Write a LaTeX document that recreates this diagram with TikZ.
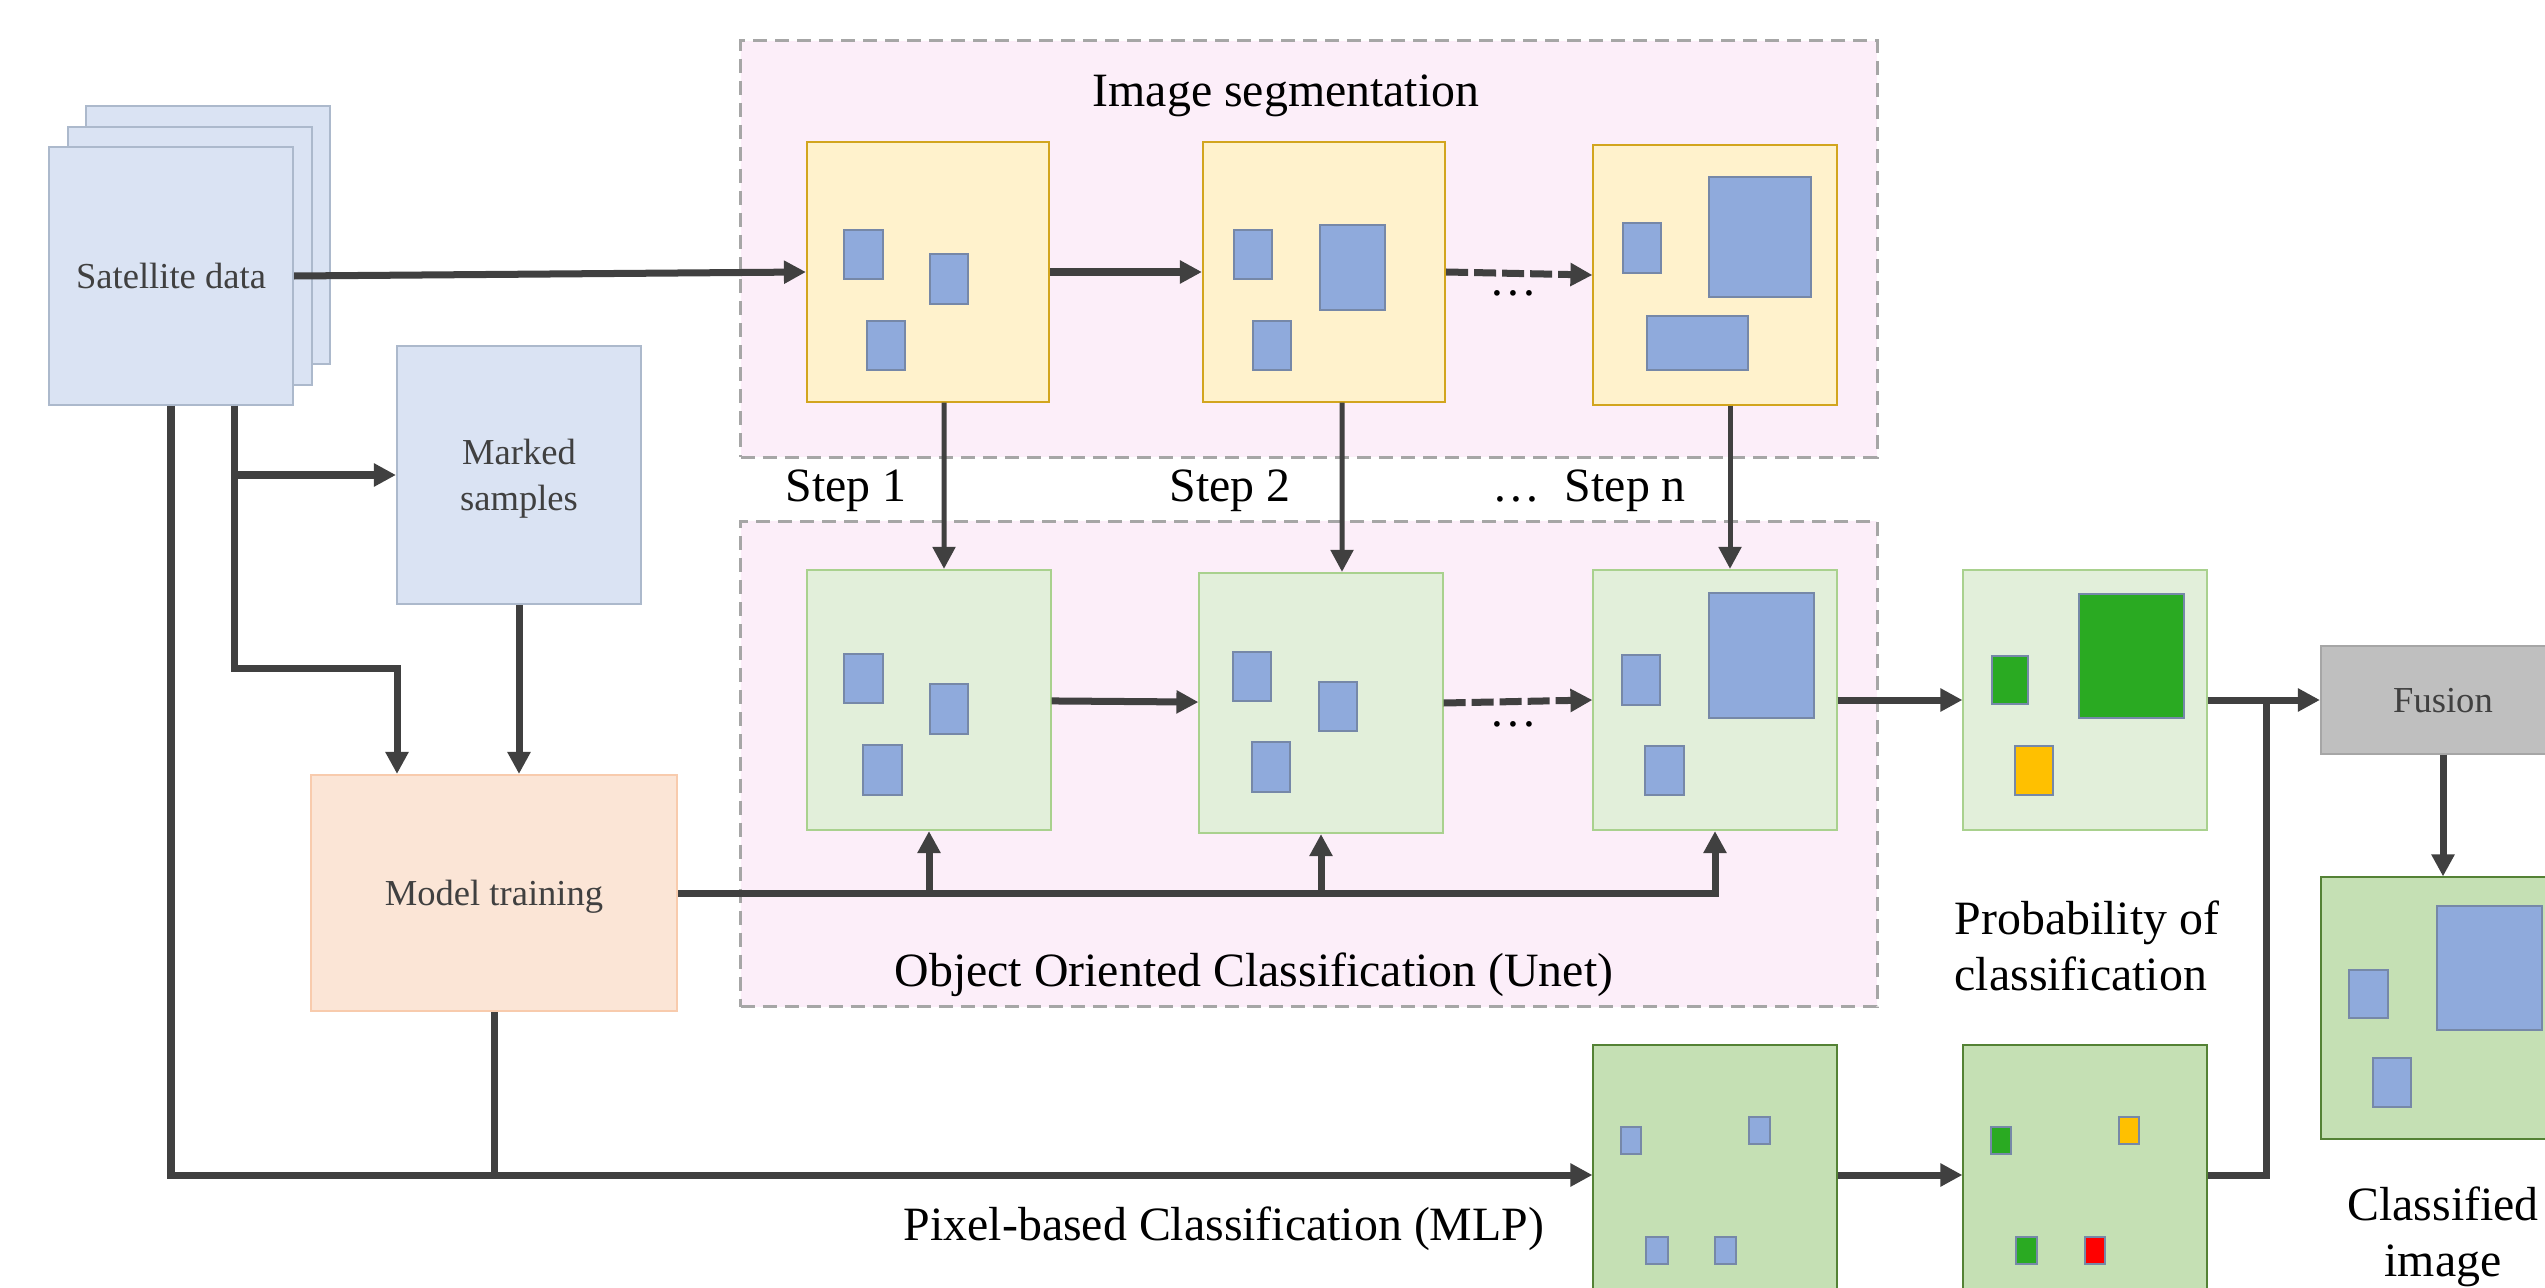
\documentclass[tikz,border=0pt]{standalone}
\usepackage{fontspec}
\setmainfont{Liberation Serif}
\usetikzlibrary{arrows.meta,positioning,calc}

\definecolor{lineGrey}{RGB}{64,64,64}
\definecolor{textGrey}{RGB}{64,64,64}
\definecolor{dataFill}{RGB}{218,227,243}
\definecolor{dataLine}{RGB}{172,185,204}
\definecolor{trainFill}{RGB}{251,229,214}
\definecolor{trainLine}{RGB}{248,203,173}
\definecolor{stageFill}{RGB}{252,238,249}
\definecolor{stageLine}{RGB}{166,166,166}
\definecolor{segFill}{RGB}{255,242,204}
\definecolor{segLine}{RGB}{210,165,30}
\definecolor{objFill}{RGB}{226,239,218}
\definecolor{objLine}{RGB}{169,209,142}
\definecolor{pixFill}{RGB}{197,224,180}
\definecolor{pixLine}{RGB}{84,130,53}
\definecolor{fusionFill}{RGB}{191,191,191}
\definecolor{fusionLine}{RGB}{166,166,166}
\definecolor{patchBlue}{RGB}{143,170,220}
\definecolor{patchGreen}{RGB}{42,170,34}
\definecolor{patchOrange}{RGB}{255,192,0}
\definecolor{patchRed}{RGB}{255,0,0}
\definecolor{patchLine}{RGB}{118,136,168}

\tikzset{%
  >={Triangle[width=0.22cm,length=0.22cm]},
  % Specifications for style of nodes:
     base/.style = {rectangle, draw, line width=0.02cm, inner sep=0pt,
                    text=textGrey, align=center, text depth=0pt,
                    font=\fontsize{10.4}{13}\selectfont},
    dataBox/.style = {base, minimum width=2.44cm, minimum height=2.57cm,
                      fill=dataFill, draw=dataLine},
    trainBox/.style = {base, minimum width=3.66cm, minimum height=2.36cm,
                       fill=trainFill, draw=trainLine},
    segImage/.style = {base, minimum width=2.42cm, minimum height=2.59cm,
                       fill=segFill, draw=segLine},
    objImage/.style = {base, minimum width=2.43cm, minimum height=2.6cm,
                       fill=objFill, draw=objLine},
    pixImage/.style = {base, minimum width=2.43cm, minimum height=2.6cm,
                       fill=pixFill, draw=pixLine},
    fusionBox/.style = {base, minimum width=2.44cm, minimum height=1.07cm,
                        fill=fusionFill, draw=fusionLine},
    stageBox/.style = {rectangle, inner sep=0pt, fill=stageFill, draw=stageLine,
                       line width=0.03cm, dash pattern=on 0.14cm off 0.08cm},
    titleText/.style = {inner sep=0pt, align=center,
                        font=\fontsize{13.6}{16}\selectfont},
    patch/.style = {draw=patchLine, line width=0.025cm},
    thickLine/.style = {draw=lineGrey, line width=0.07cm},
    thinLine/.style = {draw=lineGrey, line width=0.05cm},
    skipLine/.style = {thickLine, dash pattern=on 0.22cm off 0.06cm},
}

\begin{document}
\begin{tikzpicture}[x=0.01cm, y=-0.01cm]
  \fill[white] (0,0) rectangle (2545,1288);
  \useasboundingbox (0,0) rectangle (2545,1288);

  % dashed stages in the background
  \node (segStage) [stageBox, minimum width=11.36cm, minimum height=4.16cm] at (1309,249) {};
  \node (objStage) [stageBox, minimum width=11.36cm, minimum height=4.85cm] at (1309,764) {};

  % Specification of nodes (position, etc.)
  \node (satBack) [dataBox] at (208,235) {};
  \node (satMid)  [dataBox] at (190,256) {};
  \node (sat)     [dataBox] at (171,276) {Satellite data};
  \node (marked)  [dataBox, minimum height=2.58cm] at (519,475) {Marked\\samples};
  \node (train)   [trainBox] at (494,893) {Model training};

  \node (seg1) [segImage] at (928,272) {};
  \node (seg2) [segImage] at (1324,272) {};
  \node (seg3) [segImage, minimum width=2.43cm] at (1715,275) {};

  \node (obj1) [objImage] at (929,700) {};
  \node (obj2) [objImage] at (1321,703) {};
  \node (obj3) [objImage] at (1715,700) {};
  \node (prob) [objImage] at (2085,700) {};

  \node (pix1) [pixImage] at (1715,1175) {};
  \node (pix2) [pixImage] at (2085,1175) {};

  \node (fusion) [fusionBox] at (2443,700) {Fusion};
  \node (result) [pixImage, minimum width=2.44cm, minimum height=2.61cm] at (2443,1008) {};

  % texts around the boxes
  \node (segTitle) [titleText] at (1286,96) {Image segmentation};
  \node (objTitle) [titleText] at (1254,975) {Object Oriented Classification (Unet)};
  \node (step1) [titleText] at (846,491) {Step 1};
  \node (step2) [titleText] at (1230,491) {Step 2};
  \node (stepN) [titleText] at (1589,491) {…\hspace{0.25cm}Step n};
  \node (segDots) [titleText] at (1513,293) {…};
  \node (objDots) [titleText] at (1513,724) {…};
  \node (probText) [titleText, align=left, anchor=west] at (1954,946)
                   {Probability of\\classification};
  \node (pixText) [titleText] at (1224,1229) {Pixel-based Classification (MLP)};
  \node (resultText) [titleText, font=\fontsize{13.6}{15.8}\selectfont] at (2443,1237)
                   {Classified\\image};

  % segments inside the images
  \draw[patch, fill=patchBlue] (844,230) rectangle (883,279);
  \draw[patch, fill=patchBlue] (930,254) rectangle (968,304);
  \draw[patch, fill=patchBlue] (867,321) rectangle (905,370);

  \draw[patch, fill=patchBlue] (1234,230) rectangle (1272,279);
  \draw[patch, fill=patchBlue] (1320,225) rectangle (1385,310);
  \draw[patch, fill=patchBlue] (1253,321) rectangle (1291,370);

  \draw[patch, fill=patchBlue] (1623,223) rectangle (1661,273);
  \draw[patch, fill=patchBlue] (1709,177) rectangle (1811,297);
  \draw[patch, fill=patchBlue] (1647,316) rectangle (1748,370);

  \draw[patch, fill=patchBlue] (844,654) rectangle (883,703);
  \draw[patch, fill=patchBlue] (930,684) rectangle (968,734);
  \draw[patch, fill=patchBlue] (863,745) rectangle (902,795);

  \draw[patch, fill=patchBlue] (1233,652) rectangle (1271,701);
  \draw[patch, fill=patchBlue] (1319,682) rectangle (1357,731);
  \draw[patch, fill=patchBlue] (1252,742) rectangle (1290,792);

  \draw[patch, fill=patchBlue] (1622,655) rectangle (1660,705);
  \draw[patch, fill=patchBlue] (1709,593) rectangle (1814,718);
  \draw[patch, fill=patchBlue] (1645,746) rectangle (1684,795);

  \draw[patch, fill=patchGreen]  (1992,656) rectangle (2028,704);
  \draw[patch, fill=patchGreen]  (2079,594) rectangle (2184,718);
  \draw[patch, fill=patchOrange] (2015,746) rectangle (2053,795);

  \draw[patch, fill=patchBlue] (1621,1127) rectangle (1641,1154);
  \draw[patch, fill=patchBlue] (1749,1117) rectangle (1770,1144);
  \draw[patch, fill=patchBlue] (1646,1237) rectangle (1668,1264);
  \draw[patch, fill=patchBlue] (1715,1237) rectangle (1736,1264);

  \draw[patch, fill=patchGreen]  (1991,1127) rectangle (2011,1154);
  \draw[patch, fill=patchOrange] (2119,1117) rectangle (2139,1144);
  \draw[patch, fill=patchGreen]  (2016,1237) rectangle (2037,1264);
  \draw[patch, fill=patchRed]    (2085,1237) rectangle (2105,1264);

  \draw[patch, fill=patchBlue] (2349,970) rectangle (2388,1018);
  \draw[patch, fill=patchBlue] (2437,906) rectangle (2542,1030);
  \draw[patch, fill=patchBlue] (2373,1058) rectangle (2411,1107);

  % Specification of lines between nodes specified above
  \coordinate (trainIn) at (397,668);
  \coordinate (merge) at ($(prob.east)!0.52!(fusion.west)$);

  \draw[->, thickLine] (sat.east) -- (seg1.west);
  \draw[->, thickLine] (seg1) -- (seg2);
  \draw[->, skipLine]  (seg2.east) -- (seg3.west);

  \draw[->, thickLine] ([xshift=0.63cm]sat.south) |- (marked.west);
  \draw[->, thickLine] ([xshift=0.63cm]sat.south) |- (trainIn) -- (trainIn |- train.north);
  \draw[->, thickLine] (marked.south) -- (marked.south |- train.north);

  \draw[->, thinLine] ([xshift=0.16cm]seg1.south) -- ([xshift=0.15cm]obj1.north);
  \draw[->, thinLine] ([xshift=0.18cm]seg2.south) -- ([xshift=0.21cm]obj2.north);
  \draw[->, thinLine] ([xshift=0.15cm]seg3.south) -- ([xshift=0.15cm]obj3.north);

  \draw[->, thickLine] (obj1) -- (obj2);
  \draw[->, skipLine]  (obj2.east) -- (obj3.west);

  \draw[->, thickLine] (train.east) -| (obj3.south);
  \draw[->, thickLine] (train.east -| obj1.south) -- (obj1.south);
  \draw[->, thickLine] (train.east -| obj2.south) -- (obj2.south);

  \draw[->, thickLine] (sat.south) |- (pix1.west);
  \draw[thickLine]     (train.south) -- (train.south |- pix1.west);
  \draw[->, thickLine] (pix1) -- (pix2);

  \draw[->, thickLine] (obj3) -- (prob);
  \draw[->, thickLine] (prob) -- (fusion);
  \draw[thickLine]     (pix2.east) -| (merge);
  \draw[->, thickLine] (fusion) -- (result);

\end{tikzpicture}
\end{document}
